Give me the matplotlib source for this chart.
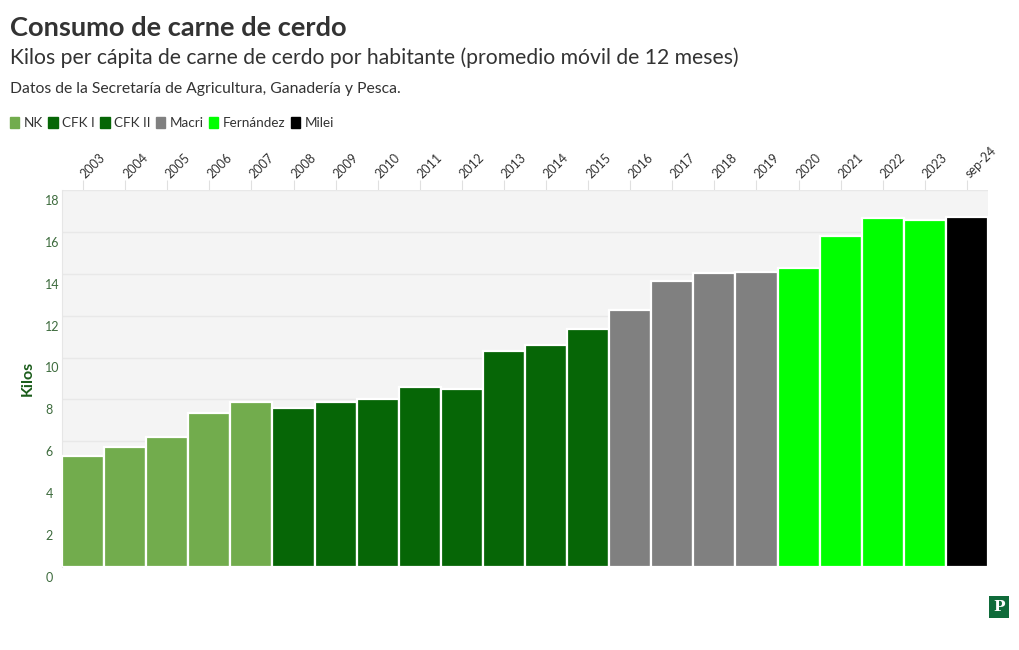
import matplotlib
matplotlib.use("Agg")
import matplotlib.pyplot as plt
from matplotlib.patches import Patch
from matplotlib.transforms import ScaledTranslation

plt.rcParams['font.family'] = ['Lato', 'DejaVu Sans']

# ---- data ----
labels = ["2003", "2004", "2005", "2006", "2007", "2008", "2009", "2010", "2011",
          "2012", "2013", "2014", "2015", "2016", "2017", "2018", "2019", "2020",
          "2021", "2022", "2023", "sep-24"]
kilos = [5.29, 5.71, 6.19, 7.33, 7.89, 7.59, 7.90, 8.03, 8.59, 8.51, 10.33,
         10.60, 11.37, 12.27, 13.67, 14.05, 14.08, 14.29, 15.78, 16.68, 16.57, 16.70]
gobierno = ["NK"] * 5 + ["CFK I"] * 4 + ["CFK II"] * 4 + ["Macri"] * 4 + \
           ["Fernández"] * 4 + ["Milei"]
grupos = ["NK", "CFK I", "CFK II", "Macri", "Fernández", "Milei"]
colores = {"NK": "#72ac4d", "CFK I": "#066606", "CFK II": "#066606",
           "Macri": "#808080", "Fernández": "#00ff00", "Milei": "#000000"}
yticks = [0, 2, 4, 6, 8, 10, 12, 14, 16, 18]

W, H = 1020, 650
fig = plt.figure(figsize=(W / 100, H / 100), dpi=100)
ax = fig.add_axes([62 / W, 1 - 567 / H, (988 - 62) / W, (567 - 190) / H])
ax.set_facecolor("#f4f4f4")

x = list(range(len(labels)))
ax.bar(x, kilos, width=1.0, color=[colores[g] for g in gobierno],
       edgecolor="white", linewidth=1.6, zorder=3)
ax.set_xlim(-0.5, len(labels) - 0.5)
ax.set_ylim(0, 18)

ax.set_yticks(yticks)
ax.set_yticklabels([str(v) for v in yticks])
ax.grid(axis="y", color="#e8e8e8", linewidth=1, zorder=0)
ax.tick_params(axis="y", length=0, pad=12, labelsize=9, labelcolor="#3d6b3d")
off = ScaledTranslation(0, -3.5 / 72, fig.dpi_scale_trans)
for lbl in ax.get_yticklabels():
    lbl.set_ha("left")
    lbl.set_va("top")
    lbl.set_transform(lbl.get_transform() + off)

ax.xaxis.tick_top()
ax.set_xticks(x)
ax.set_xticklabels(labels, rotation=45, ha="left", va="center",
                   rotation_mode="anchor")
ax.tick_params(axis="x", length=7, width=0.8, color="#e0e0e0", pad=3,
               labelsize=9, labelcolor="#333333")

for s in ["top", "right", "bottom"]:
    ax.spines[s].set_visible(False)
ax.spines["left"].set_color("#e6e6e6")
ax.spines["left"].set_linewidth(0.8)

ax.set_ylabel("Kilos", fontsize=11.5, fontweight="bold", color="#1a5c1a")
ax.yaxis.set_label_coords((35 - 62) / 926, 0.5)

# ---- titles ----
fig.text(10 / W, 1 - 28 / H, "Consumo de carne de cerdo", fontsize=19.6,
         fontweight="bold", color="#333333", va="center", ha="left")
fig.text(10 / W, 1 - 58 / H,
         "Kilos per cápita de carne de cerdo por habitante (promedio móvil de 12 meses)",
         fontsize=15.25, color="#333333", va="center", ha="left")
fig.text(10 / W, 1 - 89 / H, "Datos de la Secretaría de Agricultura, Ganadería y Pesca.",
         fontsize=11.35, color="#333333", va="center", ha="left")

# ---- legend ----
handles = [Patch(facecolor=colores[g], edgecolor=colores[g], label=g) for g in grupos]
leg = fig.legend(handles=handles, loc="center left", ncol=6, frameon=False,
                 bbox_to_anchor=(10 / W, 1 - 123 / H), fontsize=9.7,
                 handlelength=0.7, handleheight=0.9, handletextpad=0.3,
                 columnspacing=0.42, borderaxespad=0, borderpad=0)
for t in leg.get_texts():
    t.set_color("#333333")

# ---- logo ----
fig.text(999 / W, 1 - 607 / H, "P", fontsize=11, fontweight="bold",
         family="DejaVu Serif", color="white", ha="center", va="center",
         bbox=dict(boxstyle="square,pad=0.25", facecolor="#0f6b3a", edgecolor="none"))

fig.savefig("out.png", dpi=100)
